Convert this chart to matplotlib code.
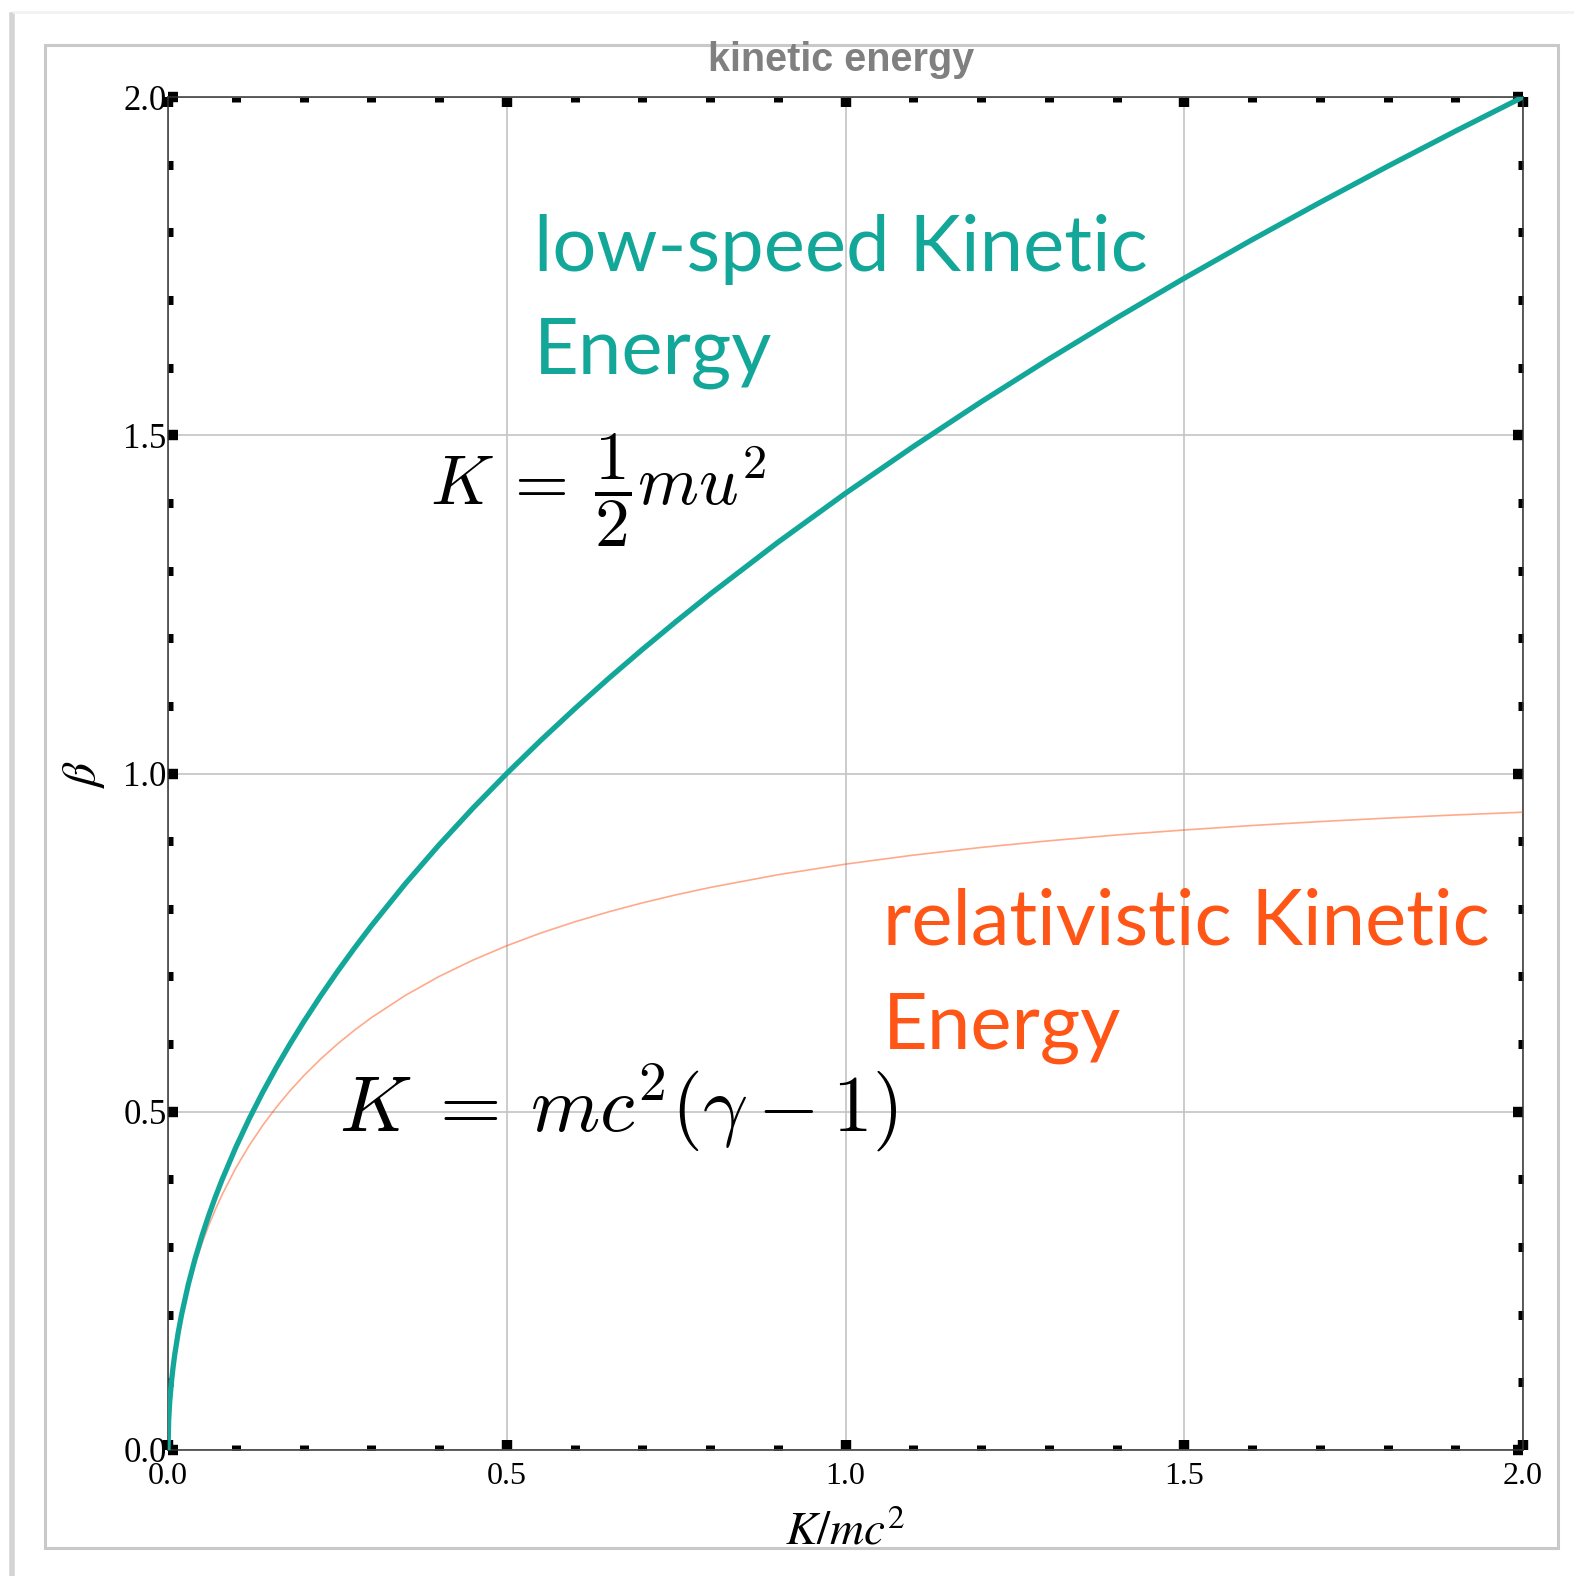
import matplotlib
matplotlib.use("Agg")
import matplotlib.pyplot as plt
from matplotlib.patches import Rectangle
from matplotlib.lines import Line2D
from matplotlib.ticker import MultipleLocator

plt.rcParams["font.family"] = ["Liberation Serif", "DejaVu Serif"]

# K/mc^2 sample points
K = [0, 0.001, 0.0025, 0.005, 0.0075, 0.01, 0.015, 0.02, 0.03, 0.04, 0.05,
     0.06, 0.07, 0.08, 0.1, 0.12, 0.14, 0.16, 0.18, 0.2, 0.225, 0.25, 0.275,
     0.3, 0.35, 0.4, 0.45, 0.5, 0.55, 0.6, 0.65, 0.7, 0.75, 0.8, 0.9, 1.0,
     1.1, 1.2, 1.3, 1.4, 1.5, 1.6, 1.7, 1.8, 1.9, 2.0]
# beta, low-speed kinetic energy (teal curve)
BETA_CLASSIC = [0, 0.0447, 0.0707, 0.1, 0.1225, 0.1414, 0.1732, 0.2, 0.2449,
                0.2828, 0.3162, 0.3464, 0.3742, 0.4, 0.4472, 0.4899, 0.5292,
                0.5657, 0.6, 0.6325, 0.6708, 0.7071, 0.7416, 0.7746, 0.8367,
                0.8944, 0.9487, 1.0, 1.0488, 1.0954, 1.1402, 1.1832, 1.2247,
                1.2649, 1.3416, 1.4142, 1.4832, 1.5492, 1.6125, 1.6733, 1.7321,
                1.7889, 1.8439, 1.8974, 1.9494, 2.0]
# beta, relativistic kinetic energy (orange curve)
BETA_REL = [0, 0.0447, 0.0706, 0.0996, 0.1218, 0.1404, 0.1713, 0.1971, 0.2396,
            0.2747, 0.3049, 0.3317, 0.3558, 0.3777, 0.4166, 0.4503, 0.4801,
            0.5068, 0.5309, 0.5528, 0.5776, 0.6, 0.6204, 0.6390, 0.6718,
            0.6999, 0.7241, 0.7454, 0.7641, 0.7806, 0.7954, 0.8087, 0.8207,
            0.8315, 0.8503, 0.8660, 0.8793, 0.8907, 0.9005, 0.9091, 0.9165,
            0.9231, 0.9289, 0.9341, 0.9387, 0.9428]

TEAL = "#13a79a"
ORANGE = "#ff5516"
W, H = 1574, 1576

fig = plt.figure(figsize=(W / 100, H / 100), dpi=100)
ax = fig.add_axes([168 / W, 1 - 1450 / H, (1523 - 168) / W, (1450 - 97) / H])

# outer frame + faint page shadow
fig.add_artist(Rectangle((45 / W, 1 - 1548 / H), (1558 - 45) / W, (1548 - 45) / H,
                         transform=fig.transFigure, fill=False,
                         edgecolor="#c9c9c9", lw=2.2, zorder=-1))
fig.add_artist(Line2D([12 / W, 12 / W], [0, 1 - 15 / H], transform=fig.transFigure,
                      color="#d4d4d4", lw=4, zorder=-1))
fig.add_artist(Line2D([14 / W, 1], [1 - 12 / H, 1 - 12 / H], transform=fig.transFigure,
                      color="#f2f2f2", lw=2, zorder=-1))

ax.plot(K, BETA_REL, color=ORANGE, lw=1.2, alpha=0.5, zorder=3)
ax.plot(K, BETA_CLASSIC, color=TEAL, lw=3.8, zorder=4)

ax.set_xlim(0, 2)
ax.set_ylim(0, 2)
ax.xaxis.set_major_locator(MultipleLocator(0.5))
ax.yaxis.set_major_locator(MultipleLocator(0.5))
ax.xaxis.set_minor_locator(MultipleLocator(0.1))
ax.yaxis.set_minor_locator(MultipleLocator(0.1))
ax.grid(which="major", color="#c4c4c4", lw=1.2)
ax.set_axisbelow(True)
for s in ax.spines.values():
    s.set_linewidth(1.1)
    s.set_color("#333333")

ax.tick_params(which="major", direction="in", length=7.5, width=7.5,
               top=True, right=True)
ax.tick_params(which="minor", direction="in", length=3.5, width=6.5,
               top=True, right=True)
ax.tick_params(axis="y", which="major", pad=1, labelsize=25)
ax.tick_params(axis="x", which="major", pad=9, labelsize=23)

ax.set_xlabel(r"$K/mc^2$", fontsize=34, math_fontfamily="stix", labelpad=14)
ax.set_ylabel(r"$\beta$", fontsize=34, math_fontfamily="stix", labelpad=12)

fig.text(841 / W, 1 - 60 / H, "kinetic energy", ha="center", va="center",
         fontsize=28.5, fontweight="bold", color="#808080", family="Liberation Sans")

# annotations
ax.text(0.54, 1.743, "low-speed Kinetic", color=TEAL, fontsize=56, family="Lato",
        va="baseline")
ax.text(0.54, 1.591, "Energy", color=TEAL, fontsize=56, family="Lato", va="baseline")
ax.text(1.055, 0.747, "relativistic Kinetic", color=ORANGE, fontsize=56, family="Lato",
        va="baseline")
ax.text(1.055, 0.594, "Energy", color=ORANGE, fontsize=56, family="Lato", va="baseline")

ax.text(0.387, 1.397, r"$K\:=\:\dfrac{1}{2}mu^2$", fontsize=50, math_fontfamily="cm",
        va="baseline", zorder=5)
ax.text(0.252, 0.4725, r"$K\;=\:mc^2(\gamma-1)$", fontsize=57, math_fontfamily="cm",
        va="baseline", zorder=5)

fig.savefig("out.png", dpi=100)
